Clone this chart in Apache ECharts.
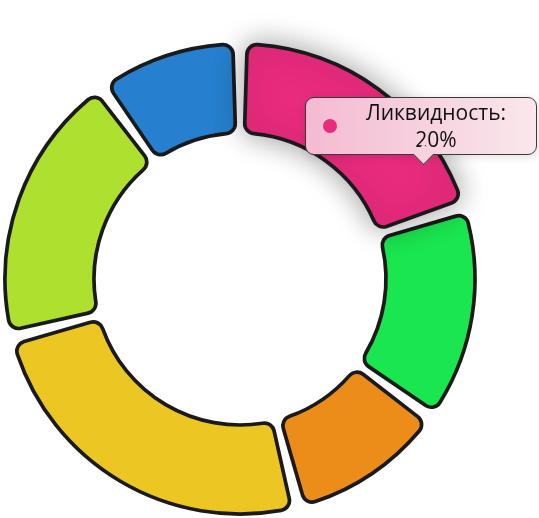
<!DOCTYPE html>
<html>
<head>
<meta charset="utf-8">
<script src="https://cdn.jsdelivr.net/npm/echarts@6/dist/echarts.min.js"></script>
<style>
html,body{margin:0;padding:0;background:#fff;}
#chart{width:539px;height:518px;}
</style>
</head>
<body>
<div id="chart"></div>
<script>
// Data
const categories = ['Ликвидность', 'Доходность', 'Надёжность', 'Рост капитала', 'Диверсификация', 'Налоговые льготы'];
const values = [20, 15, 11, 25, 19, 10];
const colors = ['#E92B7D', '#1AE64F', '#EC8D19', '#ECC723', '#AEE02F', '#2780CF'];
const highlightedIndex = 0;

const chart = echarts.init(document.getElementById('chart'), null, { renderer: 'canvas' });

const seriesData = categories.map((name, i) => ({
  name: name,
  value: values[i],
  itemStyle: { color: colors[i] },
  emphasis: {
    itemStyle: {
      color: colors[i],
      borderColor: '#1a1a1a',
      borderWidth: 3.7,
      shadowBlur: 30,
      shadowColor: 'rgba(0,0,0,0.38)'
    }
  }
}));

chart.setOption({
  animation: false,
  tooltip: {
    trigger: 'item',
    triggerOn: 'none',
    alwaysShowContent: true,
    transitionDuration: 0,
    position: [305, 97],
    padding: 0,
    borderWidth: 1,
    borderColor: '#3a3a3a',
    backgroundColor: '#F6D1DE',
    extraCssText: 'background:linear-gradient(90deg,#F4BAD1 0%,#F9E8EC 100%);border-radius:9px;box-shadow:rgba(0,0,0,0.12) 1px 2px 8px;overflow:visible;',
    formatter: function (p) {
      return '<div style="position:relative;display:flex;align-items:center;width:230px;height:56px;box-sizing:border-box;font-family:\'Open Sans\',sans-serif;font-weight:400;color:#111;">' +
        '<span style="display:inline-block;flex:none;width:14px;height:14px;border-radius:50%;background:' + colors[p.dataIndex] + ';margin-left:17px;"></span>' +
        '<div style="flex:1;text-align:center;font-size:21px;line-height:27px;margin-right:1px;">' + p.name + ':<br>' + p.value + '%</div>' +
        '<div style="position:absolute;left:110px;bottom:-8px;width:14px;height:14px;transform:rotate(45deg);background:#F6D2DE;border-right:1px solid #3a3a3a;border-bottom:1px solid #3a3a3a;"></div>' +
        '</div>';
    }
  },
  series: [{
    type: 'pie',
    center: [240, 279],
    radius: [146, 235],
    startAngle: 90,
    clockwise: true,
    padAngle: 3.5,
    avoidLabelOverlap: false,
    label: { show: false },
    labelLine: { show: false },
    itemStyle: {
      borderColor: '#1a1a1a',
      borderWidth: 3.7,
      borderRadius: 10
    },
    emphasis: { scale: false },
    data: seriesData
  }]
});

chart.dispatchAction({ type: 'highlight', seriesIndex: 0, dataIndex: highlightedIndex });
chart.dispatchAction({ type: 'showTip', seriesIndex: 0, dataIndex: highlightedIndex });
</script>
</body>
</html>
